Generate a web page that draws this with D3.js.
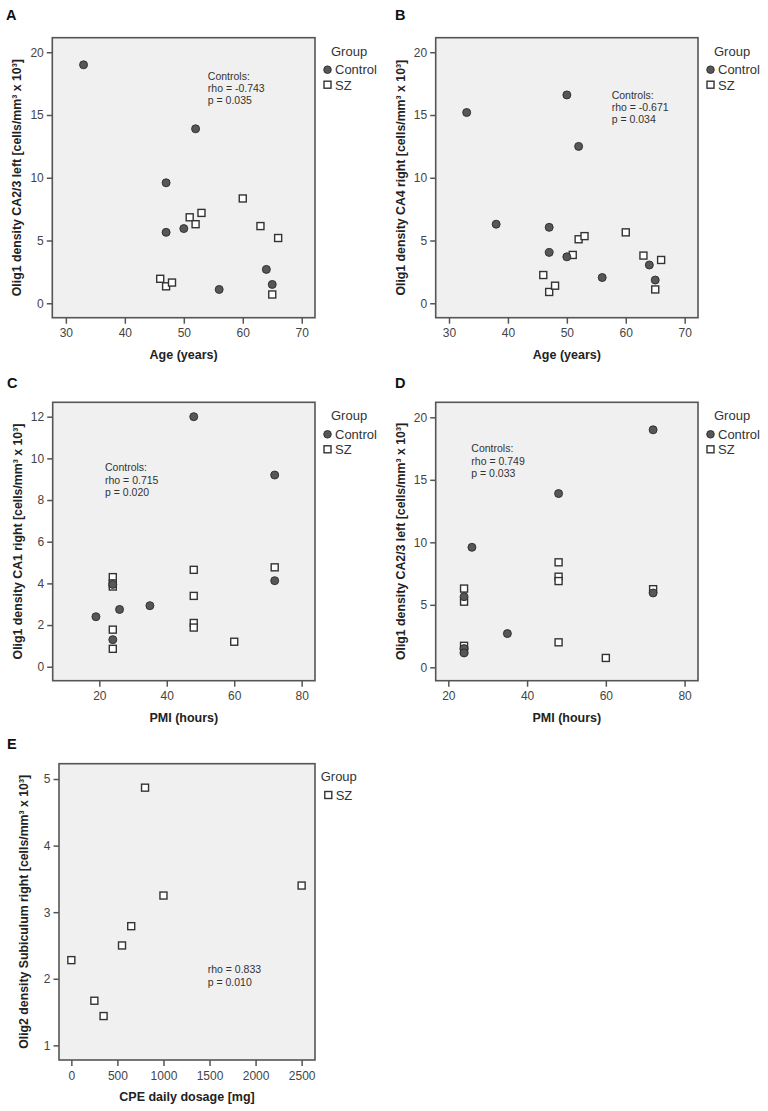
<!DOCTYPE html>
<html>
<head>
<meta charset="utf-8">
<script src="https://cdn.jsdelivr.net/npm/d3@7"></script>
<style>
  html, body { margin: 0; padding: 0; background: #fff; }
  svg { display: block; font-family: "Liberation Sans", Arial, sans-serif; }
</style>
</head>
<body>
<svg id="chart" width="768" height="1111"></svg>
<script>
// ---------- DATA ----------
// Panel A: Olig1 density CA2/3 left vs Age
const ageA_ctrl  = [33, 52, 47, 47, 50, 56, 64, 65];
const densA_ctrl = [19.0, 13.9, 9.6, 5.65, 5.95, 1.1, 2.7, 1.5];
const ageA_sz    = [46, 47, 48, 51, 52, 53, 60, 63, 66, 65];
const densA_sz   = [1.95, 1.35, 1.65, 6.85, 6.3, 7.2, 8.35, 6.15, 5.2, 0.7];

// Panel B: Olig1 density CA4 right vs Age
const ageB_ctrl  = [33, 50, 52, 38, 47, 47, 50, 56, 64, 65];
const densB_ctrl = [15.2, 16.6, 12.5, 6.3, 6.05, 4.05, 3.7, 2.05, 3.05, 1.85];
const ageB_sz    = [46, 47, 48, 51, 52, 53, 60, 63, 66, 65];
const densB_sz   = [2.25, 0.9, 1.4, 3.85, 5.1, 5.35, 5.65, 3.8, 3.45, 1.1];

// Panel C: Olig1 density CA1 right vs PMI
const pmiC_ctrl  = [48, 72, 72, 24, 26, 19, 35, 24];
const densC_ctrl = [12.0, 9.2, 4.13, 3.95, 2.75, 2.4, 2.93, 1.3];
const pmiC_sz    = [24, 24, 24, 24, 24, 48, 48, 48, 48, 60, 72];
const densC_sz   = [4.3, 4.0, 3.85, 1.78, 0.86, 4.65, 3.4, 2.1, 1.88, 1.2, 4.77];

// Panel D: Olig1 density CA2/3 left vs PMI
const pmiD_ctrl  = [72, 48, 26, 24, 35, 72, 24, 24];
const densD_ctrl = [19.0, 13.9, 9.6, 5.65, 2.7, 5.95, 1.5, 1.15];
const pmiD_sz    = [24, 24, 24, 24, 48, 48, 48, 48, 60, 72];
const densD_sz   = [6.3, 5.25, 1.72, 1.35, 8.4, 7.25, 6.9, 2.0, 0.75, 6.25];

// Panel E: Olig2 density Subiculum right vs CPE dosage (SZ only)
const cpeE_sz    = [0, 250, 350, 550, 650, 800, 1000, 2500];
const densE_sz   = [2.28, 1.67, 1.44, 2.5, 2.79, 4.87, 3.25, 3.4];

// Tick values
const ticksAgeX  = [30, 40, 50, 60, 70];
const ticksY20   = [0, 5, 10, 15, 20];
const ticksPmiX  = [20, 40, 60, 80];
const ticksY12   = [0, 2, 4, 6, 8, 10, 12];
const ticksCpeX  = [0, 500, 1000, 1500, 2000, 2500];
const ticksY5    = [1, 2, 3, 4, 5];

// Text
const groupLabels = ["Control", "SZ"];
const statsA = ["Controls:", "rho = -0.743", "p = 0.035"];
const statsB = ["Controls:", "rho = -0.671", "p = 0.034"];
const statsC = ["Controls:", "rho = 0.715", "p = 0.020"];
const statsD = ["Controls:", "rho = 0.749", "p = 0.033"];
const statsE = ["rho = 0.833", "p = 0.010"];

// ---------- LAYOUT ----------
const panels = [
  { letter: "A", lx: 6, ly: 19.5,
    box: {x0: 52.3, x1: 315, y0: 37.7, y1: 317.7},
    xd: [27.7, 72.25], yd: [-1.15, 21.16], xt: ticksAgeX, yt: ticksY20,
    xTitle: "Age (years)", yTitle: "Olig1 density CA2/3 left [cells/mm³ x 10³]",
    ctrl: [ageA_ctrl, densA_ctrl], sz: [ageA_sz, densA_sz],
    stats: statsA, sx: 155.5, sy: 42, legend: "both" },
  { letter: "B", lx: 395, ly: 19.5,
    box: {x0: 435.7, x1: 698, y0: 37.7, y1: 317.7},
    xd: [27.74, 72.26], yd: [-1.15, 21.16], xt: ticksAgeX, yt: ticksY20,
    xTitle: "Age (years)", yTitle: "Olig1 density CA4 right [cells/mm³ x 10³]",
    ctrl: [ageB_ctrl, densB_ctrl], sz: [ageB_sz, densB_sz],
    stats: statsB, sx: 176, sy: 61, legend: "both" },
  { letter: "C", lx: 7, ly: 388,
    box: {x0: 52.7, x1: 315, y0: 402.3, y1: 680.7},
    xd: [6.18, 83.95], yd: [-0.67, 12.69], xt: ticksPmiX, yt: ticksY12,
    xTitle: "PMI (hours)", yTitle: "Olig1 density CA1 right [cells/mm³ x 10³]",
    ctrl: [pmiC_ctrl, densC_ctrl], sz: [pmiC_sz, densC_sz],
    stats: statsC, sx: 52.3, sy: 69, legend: "both" },
  { letter: "D", lx: 395, ly: 388,
    box: {x0: 435.7, x1: 698, y0: 402.3, y1: 680.7},
    xd: [16.8, 83.4], yd: [-1.07, 21.2], xt: ticksPmiX, yt: ticksY20,
    xTitle: "PMI (hours)", yTitle: "Olig1 density CA2/3 left [cells/mm³ x 10³]",
    ctrl: [pmiD_ctrl, densD_ctrl], sz: [pmiD_sz, densD_sz],
    stats: statsD, sx: 35.6, sy: 50, legend: "both" },
  { letter: "E", lx: 7, ly: 748.5,
    box: {x0: 59, x1: 315, y0: 763.7, y1: 1060},
    xd: [-134, 2645], yd: [0.78, 5.23], xt: ticksCpeX, yt: ticksY5,
    xTitle: "CPE daily dosage [mg]", yTitle: "Olig2 density Subiculum right [cells/mm³ x 10³]",
    ctrl: null, sz: [cpeE_sz, densE_sz],
    stats: statsE, sx: 148.7, sy: 209.5, legend: "sz" }
];

const svg = d3.select("#chart");

panels.forEach(p => {
  const b = p.box;
  const g = svg.append("g");
  const x = d3.scaleLinear().domain(p.xd).range([b.x0, b.x1]);
  const y = d3.scaleLinear().domain(p.yd).range([b.y1, b.y0]);

  // panel letter
  g.append("text").attr("x", p.lx).attr("y", p.ly)
    .attr("font-size", 14.5).attr("font-weight", "bold").attr("fill", "#111")
    .text(p.letter);

  // plot background
  g.append("rect").attr("x", b.x0).attr("y", b.y0)
    .attr("width", b.x1 - b.x0).attr("height", b.y1 - b.y0)
    .attr("fill", "#f0f0f0");

  // axes
  const yAx = g.append("g").attr("transform", `translate(${b.x0},0)`)
    .call(d3.axisLeft(y).tickValues(p.yt).tickSize(5.5).tickPadding(3).tickFormat(d3.format("d")));
  const xAx = g.append("g").attr("transform", `translate(0,${b.y1})`)
    .call(d3.axisBottom(x).tickValues(p.xt).tickSize(6).tickPadding(5).tickFormat(d3.format("d")));
  [yAx, xAx].forEach(a => {
    a.select(".domain").remove();
    a.selectAll(".tick line").attr("stroke", "#555").attr("stroke-width", 1.5);
    a.selectAll(".tick text").attr("fill", "#444").attr("font-size", 12)
      .attr("font-family", "'Liberation Sans', Arial, sans-serif");
  });

  // border
  g.append("rect").attr("x", b.x0).attr("y", b.y0)
    .attr("width", b.x1 - b.x0).attr("height", b.y1 - b.y0)
    .attr("fill", "none").attr("stroke", "#555").attr("stroke-width", 1.6);

  // axis titles
  g.append("text")
    .attr("x", (b.x0 + b.x1) / 2).attr("y", b.y1 + 41)
    .attr("text-anchor", "middle").attr("font-size", 12.5).attr("font-weight", "bold")
    .attr("fill", "#222").text(p.xTitle);
  g.append("text")
    .attr("transform", `translate(${b.x0 - 31},${(b.y0 + b.y1) / 2}) rotate(-90)`)
    .attr("text-anchor", "middle").attr("font-size", 12.3).attr("font-weight", "bold")
    .attr("fill", "#222").text(p.yTitle);

  // stats annotation
  p.stats.forEach((s, i) => {
    g.append("text").attr("x", b.x0 + p.sx).attr("y", b.y0 + p.sy + i * 12.3)
      .attr("font-size", 10.5).attr("fill", "#333").text(s);
  });

  // SZ squares
  const sq = 7;
  const szData = d3.zip(p.sz[0], p.sz[1]);
  g.append("g").selectAll("rect").data(szData).join("rect")
    .attr("x", d => x(d[0]) - sq / 2).attr("y", d => y(d[1]) - sq / 2)
    .attr("width", sq).attr("height", sq)
    .attr("fill", "#fff").attr("stroke", "#333").attr("stroke-width", 1.4);

  // Control circles
  if (p.ctrl) {
    const cData = d3.zip(p.ctrl[0], p.ctrl[1]);
    g.append("g").selectAll("circle").data(cData).join("circle")
      .attr("cx", d => x(d[0])).attr("cy", d => y(d[1])).attr("r", 4)
      .attr("fill", "#575757").attr("stroke", "#2a2a2a").attr("stroke-width", 0.9);
  }

  // legend
  const L = g.append("g");
  if (p.legend === "both") {
    L.append("text").attr("x", b.x1 + 16).attr("y", b.y0 + 17.8)
      .attr("font-size", 13).attr("fill", "#333").text("Group");
    L.append("circle").attr("cx", b.x1 + 12.5).attr("cy", b.y0 + 32).attr("r", 3.8)
      .attr("fill", "#575757").attr("stroke", "#2a2a2a").attr("stroke-width", 0.9);
    L.append("text").attr("x", b.x1 + 20).attr("y", b.y0 + 36.6)
      .attr("font-size", 13).attr("fill", "#333").text(groupLabels[0]);
    L.append("rect").attr("x", b.x1 + 12.5 - sq / 2).attr("y", b.y0 + 47 - sq / 2)
      .attr("width", sq).attr("height", sq)
      .attr("fill", "#fff").attr("stroke", "#333").attr("stroke-width", 1.4);
    L.append("text").attr("x", b.x1 + 20).attr("y", b.y0 + 51.8)
      .attr("font-size", 13).attr("fill", "#333").text(groupLabels[1]);
  } else {
    L.append("text").attr("x", b.x1 + 5.7).attr("y", b.y0 + 17.5)
      .attr("font-size", 13).attr("fill", "#333").text("Group");
    L.append("rect").attr("x", b.x1 + 13.3 - sq / 2).attr("y", b.y0 + 31.3 - sq / 2)
      .attr("width", sq).attr("height", sq)
      .attr("fill", "#fff").attr("stroke", "#333").attr("stroke-width", 1.4);
    L.append("text").attr("x", b.x1 + 20.7).attr("y", b.y0 + 36)
      .attr("font-size", 13).attr("fill", "#333").text(groupLabels[1]);
  }
});
</script>
</body>
</html>
